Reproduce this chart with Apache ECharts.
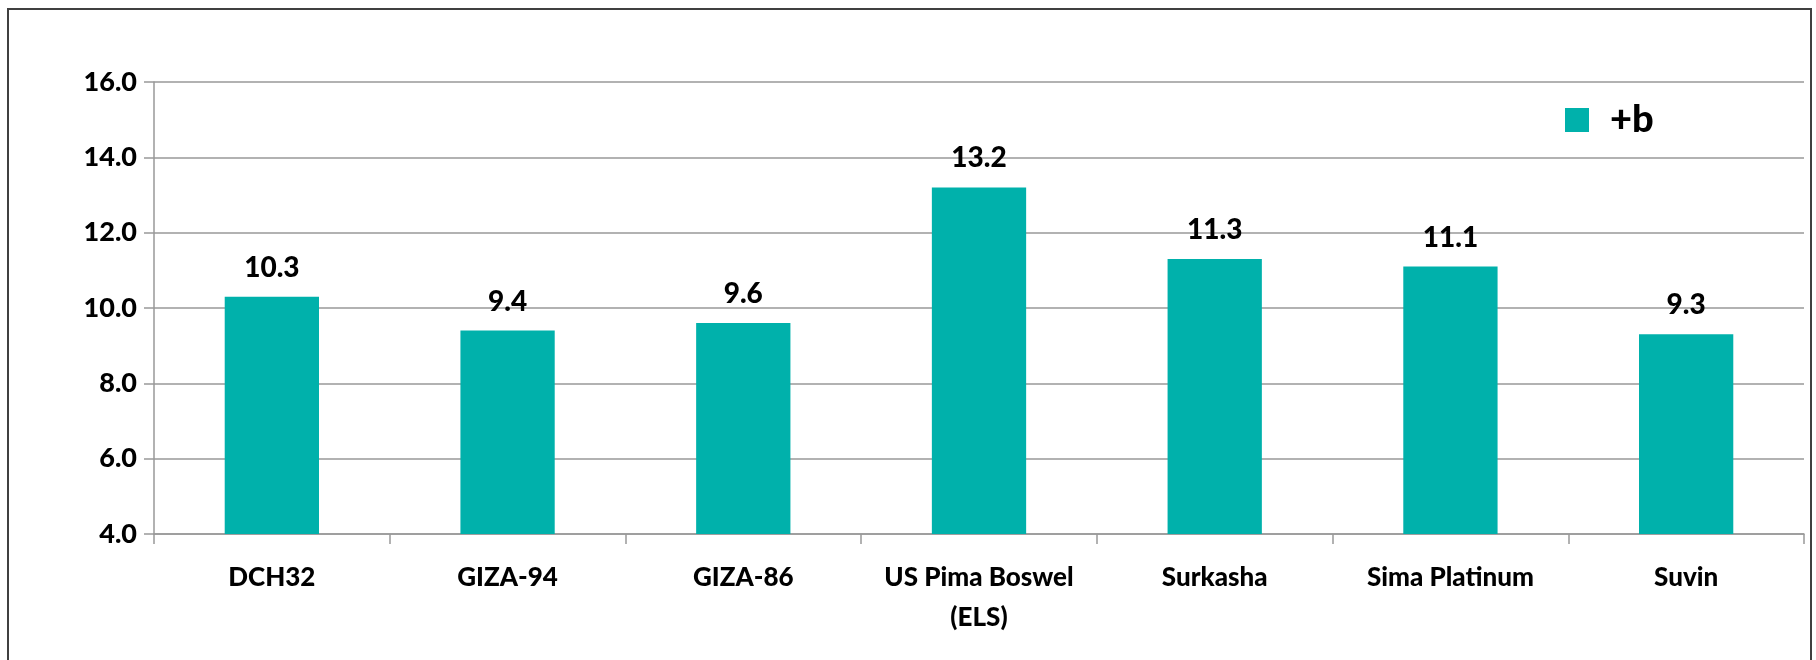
<!DOCTYPE html>
<html>
<head>
<meta charset="utf-8">
<script src="https://cdn.jsdelivr.net/npm/echarts@6/dist/echarts.min.js"></script>
<style>
    html, body { margin: 0; padding: 0; background: #fff; }
    #chart { width: 1816px; height: 660px; }
</style>
</head>
<body>
<div id="chart"></div>
<script>
var categories = ['DCH32', 'GIZA-94', 'GIZA-86', 'US Pima Boswel\n(ELS)', 'Surkasha', 'Sima Platinum', 'Suvin'];
var bValues = [10.3, 9.4, 9.6, 13.2, 11.3, 11.1, 9.3];
var seriesName = '+b';

var fontName = 'Lato, "Open Sans", sans-serif';
var chart = echarts.init(document.getElementById('chart'));
var option = {
    animation: false,
    textStyle: { fontFamily: fontName },
    graphic: [
        {
            type: 'rect',
            shape: { x: 8, y: 9, width: 1803, height: 700 },
            style: { fill: 'none', stroke: '#404040', lineWidth: 2 },
            silent: true
        }
    ],
    legend: {
        left: 1560,
        top: 96,
        itemWidth: 24,
        itemHeight: 24,
        icon: 'rect',
        textStyle: { fontSize: 38, fontWeight: 900, color: '#000', fontFamily: fontName, padding: [0, 0, 0, 16] },
        data: [seriesName]
    },
    grid: {
        left: 154,
        right: 12,
        top: 82,
        bottom: 126
    },
    xAxis: {
        type: 'category',
        data: categories,
        axisLine: { lineStyle: { color: '#999', width: 1.5 } },
        axisTick: { show: true, length: 10, lineStyle: { color: '#999', width: 1.5 } },
        axisLabel: {
            margin: 24,
            fontSize: 26,
            fontWeight: 900,
            color: '#000',
            lineHeight: 40,
            interval: 0
        }
    },
    yAxis: {
        type: 'value',
        min: 4,
        max: 16,
        interval: 2,
        axisLine: { show: true, lineStyle: { color: '#999', width: 1.5 } },
        axisTick: { show: true, length: 10, lineStyle: { color: '#999', width: 1.5 } },
        splitLine: { lineStyle: { color: '#999', width: 1.5 } },
        axisLabel: {
            margin: 17,
            fontSize: 27,
            fontWeight: 900,
            color: '#000',
            formatter: function (v) { return v.toFixed(1); }
        }
    },
    series: [
        {
            name: seriesName,
            type: 'bar',
            data: bValues,
            barWidth: '40%',
            itemStyle: { color: '#00B1AB' },
            label: {
                show: true,
                position: 'top',
                distance: 15,
                fontSize: 28,
                fontWeight: 900,
                color: '#000',
                formatter: function (p) { return p.value.toFixed(1); }
            }
        }
    ]
};
chart.setOption(option);
</script>
</body>
</html>
